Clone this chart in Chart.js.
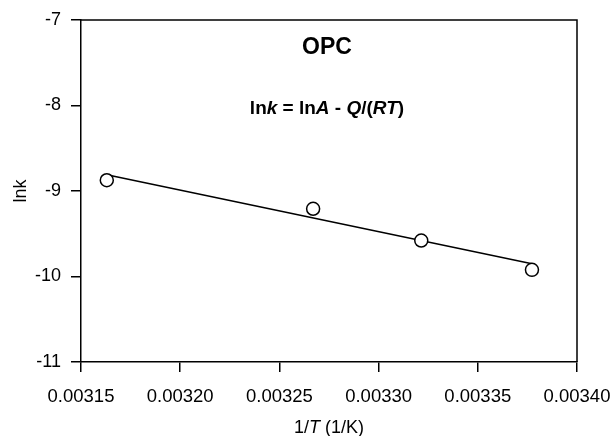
<!DOCTYPE html>
<html>
<head>
<meta charset="utf-8">
<script src="https://cdn.jsdelivr.net/npm/chart.js@4/dist/chart.umd.min.js"></script>
<style>
  html, body { margin: 0; padding: 0; background: #fff; }
  #wrap { width: 611px; height: 436px; position: relative; }
</style>
</head>
<body>
<div id="wrap"><canvas id="c" width="611" height="436"></canvas></div>
<script>
// ---- data ----
const invT = [0.003163, 0.003267, 0.0033215, 0.0033773];
const lnk = [-8.874, -9.208, -9.579, -9.922];
const fitX = [0.003163, 0.0033773];
const fitY = [-8.81, -9.85];
const xTicks = [0.00315, 0.00320, 0.00325, 0.00330, 0.00335, 0.00340];
const yTicks = [-11, -10, -9, -8, -7];
const chartTitle = "OPC";
const yTitle = "lnk";

const FONT = "'Liberation Sans', Arial, sans-serif";

const pts = invT.map((x, i) => ({ x: x, y: lnk[i] }));
const fitPts = fitX.map((x, i) => ({ x: x, y: fitY[i] }));

function drawSegments(ctx, segs, cx, cy, size) {
  let total = 0;
  segs.forEach(s => {
    ctx.font = (s[1] ? 'italic ' : '') + (s[2] ? 'bold ' : '') + size + 'px ' + FONT;
    total += ctx.measureText(s[0]).width;
  });
  let x = cx - total / 2;
  segs.forEach(s => {
    ctx.font = (s[1] ? 'italic ' : '') + (s[2] ? 'bold ' : '') + size + 'px ' + FONT;
    ctx.fillText(s[0], x, cy);
    x += ctx.measureText(s[0]).width;
  });
}

const decor = {
  id: 'decor',
  afterDraw(chart) {
    const ctx = chart.ctx;
    const a = chart.chartArea;
    ctx.save();
    ctx.strokeStyle = '#000';
    ctx.lineWidth = 1.5;
    ctx.beginPath();
    ctx.moveTo(a.left, a.top);
    ctx.lineTo(a.right, a.top);
    ctx.lineTo(a.right, a.bottom);
    ctx.stroke();
    ctx.fillStyle = '#000';
    ctx.textBaseline = 'middle';
    const cx = (a.left + a.right) / 2;
    ctx.font = 'bold 23px ' + FONT;
    ctx.textAlign = 'center';
    ctx.fillText(chartTitle, cx - 2, a.top + 28);
    ctx.textAlign = 'left';
    drawSegments(ctx, [
      ['ln', false, true], ['k', true, true], [' = ln', false, true], ['A', true, true],
      [' - ', false, true], ['Q', true, true], ['/(', false, true], ['RT', true, true], [')', false, true]
    ], cx - 2, a.top + 89, 19);
    drawSegments(ctx, [
      ['1/', false, false], ['T', true, false], [' (1/K)', false, false]
    ], cx, 428, 18);
    ctx.restore();
  }
};

new Chart(document.getElementById('c'), {
  type: 'scatter',
  data: {
    datasets: [
      {
        data: pts,
        order: 0,
        pointRadius: 6.5,
        pointHoverRadius: 6.5,
        pointBackgroundColor: '#fff',
        pointBorderColor: '#000',
        pointBorderWidth: 1.5,
        showLine: false
      },
      {
        data: fitPts,
        order: 1,
        showLine: true,
        borderColor: '#000',
        borderWidth: 1.5,
        pointRadius: 0,
        fill: false
      }
    ]
  },
  options: {
    responsive: false,
    animation: false,
    events: [],
    layout: { padding: { left: 0, right: 34, top: 20, bottom: 0 } },
    plugins: { legend: { display: false }, tooltip: { enabled: false } },
    scales: {
      x: {
        type: 'linear',
        min: xTicks[0],
        max: xTicks[xTicks.length - 1],
        afterBuildTicks(s) { s.ticks = xTicks.map(v => ({ value: v })); },
        afterFit(s) { s.height = 74; s.paddingLeft = 0; s.paddingRight = 0; },
        grid: { drawOnChartArea: false, drawTicks: true, tickLength: 10, color: '#000', lineWidth: 1.5 },
        border: { color: '#000', width: 1.5 },
        ticks: {
          color: '#000',
          font: { family: FONT, size: 18.5 },
          padding: 14,
          maxRotation: 0,
          autoSkip: false,
          callback: v => v.toFixed(5)
        }
      },
      y: {
        type: 'linear',
        min: yTicks[0],
        max: yTicks[yTicks.length - 1],
        afterBuildTicks(s) { s.ticks = yTicks.map(v => ({ value: v })); },
        afterFit(s) { s.width = 81; s.paddingTop = 0; s.paddingBottom = 0; },
        grid: { drawOnChartArea: false, drawTicks: true, tickLength: 10, color: '#000', lineWidth: 1.5 },
        border: { color: '#000', width: 1.5 },
        title: { display: true, text: yTitle, color: '#000', font: { family: FONT, size: 18 }, padding: { top: 10, bottom: 0 } },
        ticks: {
          color: '#000',
          font: { family: FONT, size: 18 },
          padding: 10,
          autoSkip: false,
          callback: v => v.toFixed(0)
        }
      }
    }
  },
  plugins: [decor]
});
</script>
</body>
</html>
